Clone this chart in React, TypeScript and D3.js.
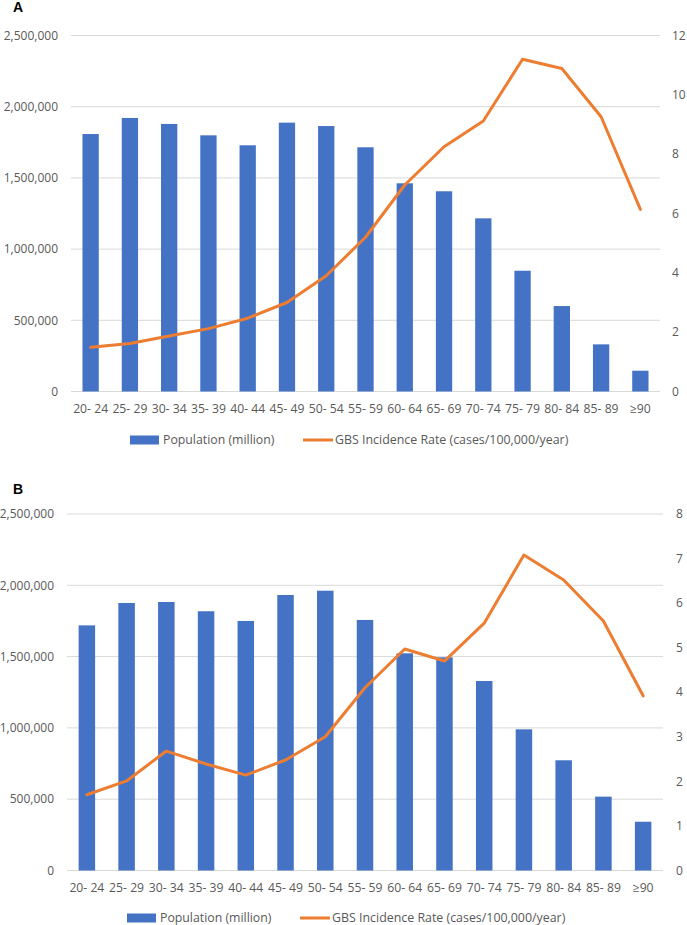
import React from "react";
import * as d3 from "d3";

const categories = ["20- 24", "25- 29", "30- 34", "35- 39", "40- 44", "45- 49", "50- 54", "55- 59", "60- 64", "65- 69", "70- 74", "75- 79", "80- 84", "85- 89", "≥90"];

const popA = [1808000, 1921000, 1879000, 1799000, 1729000, 1888000, 1864000, 1715000, 1462000, 1406000, 1216000, 848000, 600000, 331000, 146000];
const rateA = [1.49, 1.62, 1.87, 2.12, 2.47, 3.0, 3.9, 5.2, 6.96, 8.25, 9.12, 11.2, 10.89, 9.26, 6.14];

const popB = [1719000, 1876000, 1883000, 1818000, 1750000, 1932000, 1962000, 1757000, 1523000, 1495000, 1329000, 990000, 773000, 518000, 342000];
const rateB = [1.7, 2.01, 2.68, 2.39, 2.14, 2.48, 3.0, 4.1, 4.97, 4.7, 5.55, 7.08, 6.52, 5.6, 3.92];

const leftTicks = [0, 500000, 1000000, 1500000, 2000000, 2500000];
const rightTicksA = [0, 2, 4, 6, 8, 10, 12];
const rightTicksB = [0, 1, 2, 3, 4, 5, 6, 7, 8];

const legendPop = "Population (million)";
const legendRate = "GBS Incidence Rate (cases/100,000/year)";

const BLUE = "#4472C4";
const ORANGE = "#ED7D31";
const GRID = "#D9D9D9";
const TEXT = "#595959";
const FONT = "'Open Sans', sans-serif";

type PanelProps = {
  label: string;
  labelY: number;
  x0: number;
  x1: number;
  yTop: number;
  yBottom: number;
  pop: number[];
  rate: number[];
  rightTicks: number[];
  leftLabelX: number;
  rightLabelX: number;
  xLabelY: number;
  legendY: number;
  legendX: number;
};

function Panel(p: PanelProps) {
  const x = d3.scaleBand<string>().domain(categories).range([p.x0, p.x1]).paddingInner(0.585).paddingOuter(0.2925);
  const yL = d3.scaleLinear().domain([0, 2500000]).range([p.yBottom, p.yTop]);
  const rMax = p.rightTicks[p.rightTicks.length - 1];
  const yR = d3.scaleLinear().domain([0, rMax]).range([p.yBottom, p.yTop]);
  const fmt = d3.format(",");
  const line = d3
    .line<number>()
    .x((_, i) => (x(categories[i]) as number) + x.bandwidth() / 2)
    .y((d) => yR(d));
  return (
    <g fontFamily={FONT}>
      <text x={13} y={p.labelY} fontFamily="'Liberation Sans', Arial, sans-serif" fontWeight="bold" fontSize={14} fill="#000">
        {p.label}
      </text>
      {leftTicks.map((t) => (
        <g key={t}>
          <line x1={p.x0} x2={p.x1} y1={yL(t)} y2={yL(t)} stroke={GRID} strokeWidth={1} />
          <text x={p.leftLabelX} y={yL(t)} dy="0.35em" textAnchor="end" fontSize={12} fill={TEXT}>
            {fmt(t)}
          </text>
        </g>
      ))}
      {p.rightTicks.map((t) => (
        <text key={t} x={p.rightLabelX} y={yR(t)} dy="0.35em" textAnchor="start" fontSize={12} fill={TEXT}>
          {t}
        </text>
      ))}
      {p.pop.map((v, i) => (
        <rect key={i} x={x(categories[i])} y={yL(v)} width={x.bandwidth()} height={yL(0) - yL(v)} fill={BLUE} />
      ))}
      <path d={line(p.rate) || ""} fill="none" stroke={ORANGE} strokeWidth={3} strokeLinejoin="round" strokeLinecap="round" />
      {categories.map((c) => (
        <text key={c} x={(x(c) as number) + x.bandwidth() / 2} y={p.xLabelY} dy="0.35em" textAnchor="middle" fontSize={12.2} fill={TEXT}>
          {c}
        </text>
      ))}
      <rect x={p.legendX} y={p.legendY - 4.5} width={29} height={9} fill={BLUE} />
      <text x={p.legendX + 33} y={p.legendY} dy="0.35em" fontSize={12.3} fill={TEXT}>
        {legendPop}
      </text>
      <line x1={p.legendX + 173} x2={p.legendX + 203} y1={p.legendY} y2={p.legendY} stroke={ORANGE} strokeWidth={3} />
      <text x={p.legendX + 205} y={p.legendY} dy="0.35em" fontSize={12.4} fill={TEXT}>
        {legendRate}
      </text>
    </g>
  );
}

export default function App() {
  return (
    <svg width={687} height={925} style={{ position: "absolute", left: 0, top: 0, background: "#fff" }}>
      <rect width={687} height={925} fill="#fff" />
      <Panel
        label="A"
        labelY={12}
        x0={71}
        x1={660}
        yTop={35.5}
        yBottom={391.5}
        pop={popA}
        rate={rateA}
        rightTicks={rightTicksA}
        leftLabelX={58}
        rightLabelX={672}
        xLabelY={409}
        legendY={440}
        legendX={130}
      />
      <Panel
        label="B"
        labelY={494}
        x0={67}
        x1={663}
        yTop={514}
        yBottom={870.5}
        pop={popB}
        rate={rateB}
        rightTicks={rightTicksB}
        leftLabelX={54}
        rightLabelX={676}
        xLabelY={888}
        legendY={918}
        legendX={127}
      />
    </svg>
  );
}
